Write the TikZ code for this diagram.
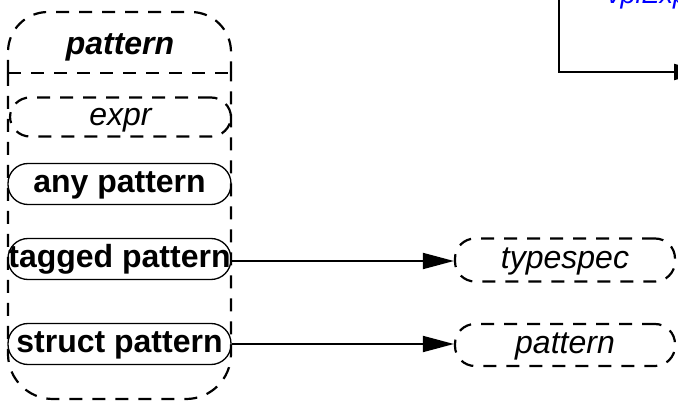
\documentclass[tikz,border=0pt]{standalone}
\usepackage{fontspec}
\setmainfont{Liberation Sans}
\usetikzlibrary{arrows.meta}
\begin{document}
\begin{tikzpicture}[x=1pt,y=-1pt,
  dsh/.style={draw,line width=2.2pt,dash pattern=on 13pt off 10pt},
  solidbox/.style={draw,line width=1.3pt,rounded corners=20pt,minimum height=41pt,inner sep=0pt},
  dashbox/.style={dsh,rounded corners=20pt,inner sep=0pt},
  conn/.style={line width=1.8pt,-{Triangle[length=31pt,width=16pt]}},
  txt/.style={text height=16.6pt,text depth=0pt},
  lbl/.style={txt,font=\fontsize{32}{36}\selectfont\bfseries},
  ilbl/.style={txt,font=\fontsize{32}{36}\selectfont\itshape},
  ]
\useasboundingbox (0,0) rectangle (678,406);
% outer container
\draw[dsh,rounded corners=40pt] (8,73) -- (8,12) -- (231,12) -- (231,73);
\draw[dsh] (8,73) -- (231,73);
\draw[dsh,rounded corners=45pt] (8,73) -- (8,399) -- (231,399) -- (231,73);
\node[txt,font=\fontsize{32}{36}\selectfont\bfseries\itshape] (hdr) at (120,46) {pattern};
% inner boxes
\node[dashbox,minimum width=221pt,minimum height=39pt,ilbl] (expr) at (120.5,117) {expr};
\node[solidbox,minimum width=223pt,lbl] (any) at (119.5,184) {any pattern};
\node[solidbox,minimum width=223pt,lbl] (tagged) at (119.5,259) {tagged pattern};
\node[solidbox,minimum width=223pt,lbl] (struct) at (119.5,344) {struct pattern};
% right boxes
\node[dashbox,minimum width=220pt,minimum height=43pt,ilbl] (typespec) at (565,260) {typespec};
\node[dashbox,minimum width=220pt,minimum height=42pt,ilbl] (pat2) at (565,345) {pattern};
\draw[conn] (tagged.east |- 0,261) -- (typespec.west |- 0,261);
\draw[conn] (struct.east |- 0,344) -- (pat2.west |- 0,344);
% top right
\node[anchor=base west,inner sep=0pt,text=blue,font=\fontsize{27}{30}\selectfont\itshape] (vpi) at (607,4) {vpiExpr};
\coordinate (tstart) at (559,-5);
\coordinate (tend) at (705,72);
\draw[conn] (tstart) |- (tend);
\end{tikzpicture}
\end{document}
